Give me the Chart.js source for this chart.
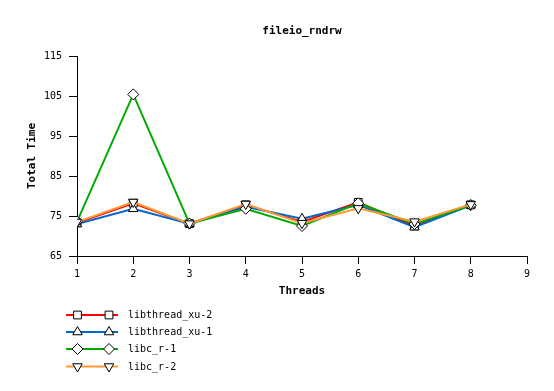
<!DOCTYPE html>
<html>
<head>
<meta charset="utf-8">
<script src="https://cdn.jsdelivr.net/npm/chart.js@4.4.1/dist/chart.umd.min.js"></script>
<style>
html,body{margin:0;padding:0;background:#fff;}
#wrap{position:relative;width:554px;height:391px;}
</style>
</head>
<body>
<div id="wrap"><canvas id="c" width="554" height="391"></canvas></div>
<script>
const chartTitle = "fileio_rndrw";
const xTitle = "Threads";
const yTitle = "Total Time";
const threads = [1, 2, 3, 4, 5, 6, 7, 8];
const seriesNames = ["libthread_xu-2", "libthread_xu-1", "libc_r-1", "libc_r-2"];
const libthread_xu_2 = [73.3, 78.2, 73.1, 77.8, 73.5, 78.4, 72.5, 77.8];
const libthread_xu_1 = [73.0, 76.8, 73.1, 77.3, 74.3, 77.8, 72.2, 77.7];
const libc_r_1 = [73.6, 105.4, 73.1, 76.8, 72.5, 78.2, 73.0, 77.7];
const libc_r_2 = [73.5, 78.5, 73.1, 78.0, 73.2, 76.9, 73.6, 77.9];
const yTicks = [65, 75, 85, 95, 105, 115];
const xTicks = [1, 2, 3, 4, 5, 6, 7, 8, 9];

const colors = ["#ff0000", "#0066cc", "#00aa00", "#ff9933"];
const pointStyles = ["rect", "triangle", "rectRot", "triangle"];
const pointRotations = [0, 0, 0, 180];
const seriesValues = [libthread_xu_2, libthread_xu_1, libc_r_1, libc_r_2];

const FONT = "'DejaVu Sans Mono', monospace";

const datasets = seriesValues.map((vals, i) => ({
  label: seriesNames[i],
  data: threads.map((t, j) => ({x: t, y: vals[j]})),
  borderColor: colors[i],
  backgroundColor: colors[i],
  borderWidth: 2,
  pointStyle: pointStyles[i],
  pointRotation: pointRotations[i],
  pointRadius: 5.5,
  pointBackgroundColor: "#ffffff",
  pointBorderColor: "#000000",
  pointBorderWidth: 1,
  tension: 0,
  order: 4 - i
}));

const customPlugin = {
  id: "custom",
  afterDraw(chart) {
    const ctx = chart.ctx;
    const ca = chart.chartArea;
    ctx.save();
    ctx.fillStyle = "#000";
    ctx.font = "bold 11px " + FONT;
    ctx.textAlign = "center";
    ctx.textBaseline = "middle";
    ctx.fillText(chartTitle, (ca.left + ca.right) / 2, 31);
    // legend
    ctx.font = "10px " + FONT;
    ctx.textAlign = "left";
    const rows = [315, 332, 349, 366.5];
    chart.data.datasets.forEach((ds, i) => {
      const y = rows[i];
      ctx.strokeStyle = ds.borderColor;
      ctx.lineWidth = 2;
      ctx.beginPath();
      ctx.moveTo(66, y);
      ctx.lineTo(118, y);
      ctx.stroke();
      [77.5, 109].forEach(px => {
        ctx.fillStyle = "#fff";
        ctx.strokeStyle = "#000";
        ctx.lineWidth = 1;
        Chart.helpers.drawPoint(ctx, {pointStyle: ds.pointStyle, rotation: ds.pointRotation, radius: 5.5, borderWidth: 1}, px, y);
      });
      ctx.fillStyle = "#000";
      ctx.fillText(ds.label, 128, y + 0.5);
    });
    ctx.restore();
  }
};

new Chart(document.getElementById("c"), {
  type: "line",
  data: {datasets},
  plugins: [customPlugin],
  options: {
    responsive: false,
    animation: false,
    devicePixelRatio: 1,
    layout: {padding: {left: 0, right: 27, top: 56, bottom: 90}},
    plugins: {legend: {display: false}, title: {display: false}, tooltip: {enabled: false}},
    scales: {
      x: {
        type: "linear",
        min: xTicks[0], max: xTicks[xTicks.length - 1],
        afterBuildTicks: s => { s.ticks = xTicks.map(v => ({value: v})); },
        afterFit: s => { s.height = 45; },
        grid: {drawOnChartArea: false, color: "#000", tickLength: 8, lineWidth: 1},
        border: {color: "#000", width: 1},
        ticks: {color: "#000", font: {family: FONT, size: 10}, padding: 4, maxRotation: 0, autoSkip: false},
        title: {display: true, text: xTitle, color: "#000", font: {family: FONT, size: 11, weight: "bold"}, padding: {top: 0, bottom: 3}}
      },
      y: {
        type: "linear",
        min: yTicks[0], max: yTicks[yTicks.length - 1],
        afterBuildTicks: s => { s.ticks = yTicks.map(v => ({value: v})); },
        afterFit: s => { s.width = 77; },
        grid: {drawOnChartArea: false, color: "#000", tickLength: 8, lineWidth: 1},
        border: {color: "#000", width: 1},
        ticks: {color: "#000", font: {family: FONT, size: 10}, padding: 7, autoSkip: false},
        title: {display: true, text: yTitle, color: "#000", font: {family: FONT, size: 11, weight: "bold"}, padding: {top: 26, bottom: 0}}
      }
    }
  }
});
</script>
</body>
</html>
